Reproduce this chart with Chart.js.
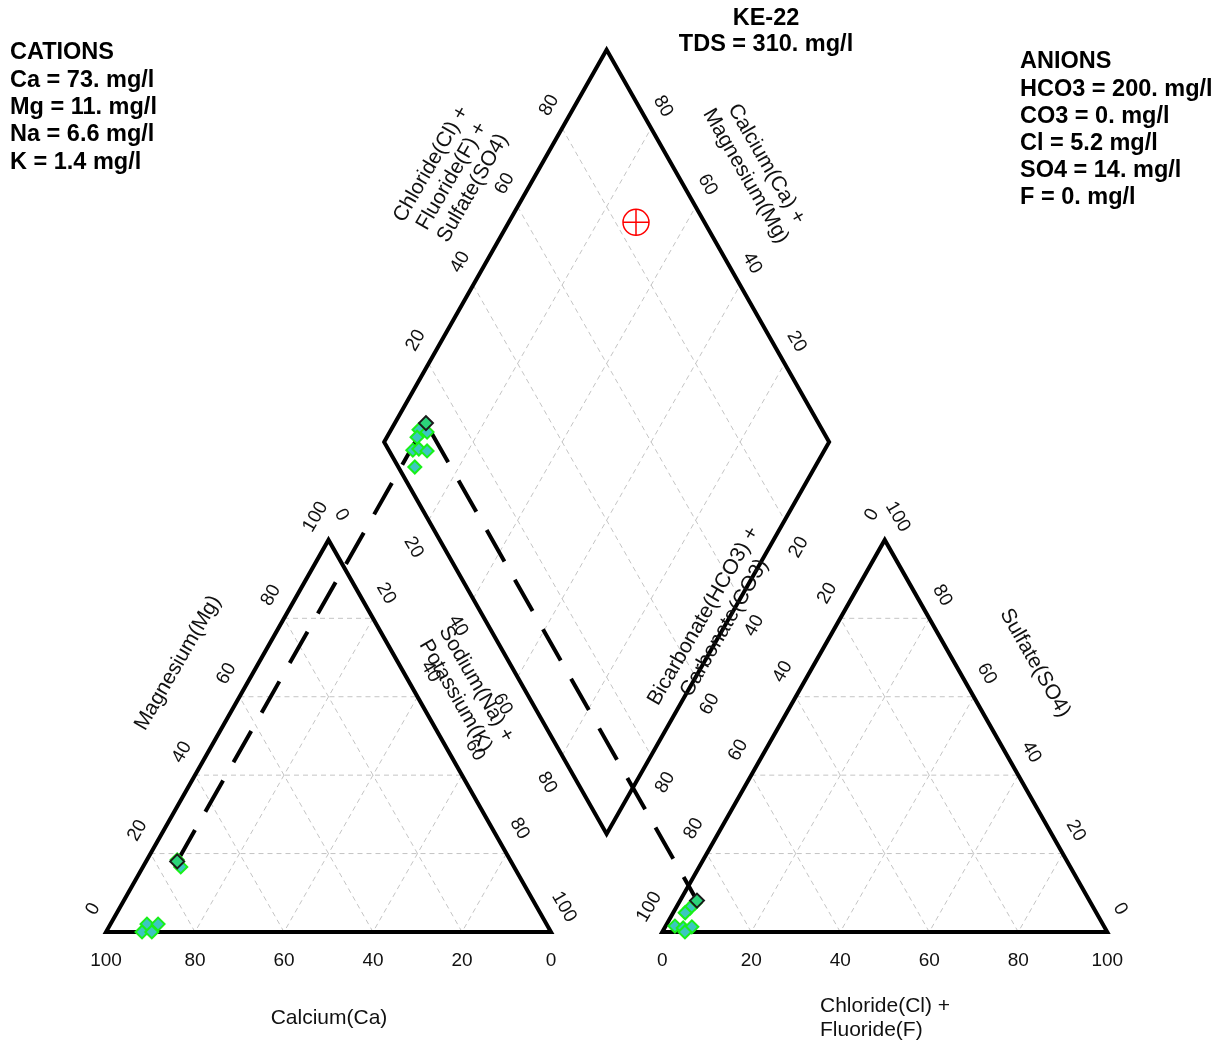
<!DOCTYPE html>
<html>
<head>
<meta charset="utf-8">
<script src="https://cdn.jsdelivr.net/npm/chart.js@4.4.0/dist/chart.umd.min.js"></script>
<style>
  html, body { margin: 0; padding: 0; background: #fff; }
  #wrap { width: 1225px; height: 1044px; position: relative; }
</style>
</head>
<body>
<div id="wrap"><canvas id="piper"></canvas></div>
<script>
// sample info shown in the corners
const sampleName = 'KE-22';
const tdsText = 'TDS = 310. mg/l';
const cationLines = ['CATIONS', 'Ca = 73. mg/l', 'Mg = 11. mg/l', 'Na = 6.6 mg/l', 'K = 1.4 mg/l'];
const anionLines = ['ANIONS', 'HCO3 = 200. mg/l', 'CO3 = 0. mg/l', 'Cl = 5.2 mg/l', 'SO4 = 14. mg/l', 'F = 0. mg/l'];

// % of meq. cations: [Ca, Mg], anions: [Cl, SO4]
const highlightCation = [75, 18];
const highlightAnion = [3.8, 8];

// other samples (green diamonds)
const otherCations = [[74.8, 18.4], [74.9, 16.6], [89.8, 2], [87.3, 2], [91.9, 0], [89.7, 0]];
const otherAnions = [[3.7, 7.4], [3.2, 6.1], [2.7, 4.9], [2.1, 1.5], [4.2, 1.0], [6.0, 1.3], [5.1, 0]];
// diamond: [Na+K, Cl+SO4]
const otherDiamond = [[6.3, 9.4], [8.4, 10.9], [6.8, 8.0], [7.5, 5.4], [8.7, 6.9], [10.8, 8.5], [10.1, 3.7]];
const redMarker = [28.6, 84.6];

const tickValues = [0, 20, 40, 60, 80, 100];
const innerTicks = [20, 40, 60, 80];

// ---- geometry (data units, triangle side = 100)
const H = Math.sqrt(3) / 2;
const LA = [0, 0], LB = [100, 0], LC = [50, 100 * H];          // Ca, Na+K, Mg corners
const RA = [125, 0], RB = [225, 0], RC = [175, 100 * H];       // HCO3, Cl, SO4 corners
const DL = [62.5, 125 * H], DT = [112.5, 225 * H], DR = [162.5, 125 * H], DB = [112.5, 25 * H];

const lerp = (a, b, f) => [a[0] + (b[0] - a[0]) * f, a[1] + (b[1] - a[1]) * f];
const pt = p => ({ x: p[0], y: p[1] });
const gap = { x: null, y: null };

function cationXY(c) {
  const mg = c[1], nak = 100 - c[0] - c[1];
  return [nak + mg / 2, mg * H];
}
function anionXY(a) {
  return [125 + a[0] + a[1] / 2, a[1] * H];
}
function diamondXY(nak, clso4) {
  return [(125 + clso4 + nak) / 2, H * (125 + clso4 - nak)];
}

// grid lines
const grid = [];
function triGrid(p0, p1, p2) {
  const v = [p0, p1, p2];
  for (let i = 0; i < 3; i++) {
    const a = v[i], b = v[(i + 1) % 3], c = v[(i + 2) % 3];
    innerTicks.forEach(k => {
      grid.push(pt(lerp(a, b, k / 100)), pt(lerp(a, c, k / 100)), gap);
    });
  }
}
triGrid(LA, LB, LC);
triGrid(RA, RB, RC);
innerTicks.forEach(k => {
  const f = k / 100;
  grid.push(pt(lerp(DL, DT, f)), pt(lerp(DB, DR, f)), gap);
  grid.push(pt(lerp(DL, DB, f)), pt(lerp(DT, DR, f)), gap);
});

const outline = [
  LA, LB, LC, LA, LB].map(pt).concat([gap],
  [RA, RB, RC, RA, RB].map(pt), [gap],
  [DL, DT, DR, DB, DL, DT].map(pt));

const hiCat = cationXY(highlightCation);
const hiAn = anionXY(highlightAnion);
const hiDia = diamondXY(100 - highlightCation[0] - highlightCation[1], highlightAnion[0] + highlightAnion[1]);

const otherPts = otherCations.map(cationXY)
  .concat(otherAnions.map(anionXY))
  .concat(otherDiamond.map(d => diamondXY(d[0], d[1])))
  .map(pt);

const redPt = diamondXY(redMarker[0], redMarker[1]);

// ---- tick label edges
const FONT = '"Liberation Sans", Arial, sans-serif';
const edges = [
  { a: LB, b: LA, vals: tickValues, off: [0, 29], rot: 0 },        // Ca
  { a: LA, b: LC, vals: tickValues, off: [-13, -23], rot: -60 },   // Mg
  { a: LC, b: LB, vals: tickValues, off: [13, -25], rot: 60 },     // Na+K
  { a: RA, b: RB, vals: tickValues, off: [0, 29], rot: 0 },        // Cl
  { a: RC, b: RA, vals: tickValues, off: [-13, -25], rot: -60 },   // HCO3
  { a: RB, b: RC, vals: tickValues, off: [13, -23], rot: 60 },     // SO4
  { a: DL, b: DT, vals: innerTicks, off: [-13, -23], rot: -60 },   // Cl+SO4
  { a: DR, b: DT, vals: innerTicks, off: [12, -22], rot: 60 },     // Ca+Mg
  { a: DL, b: DB, vals: innerTicks, off: [-15, 27], rot: 60 },     // Na+K
  { a: DR, b: DB, vals: innerTicks, off: [14, 27], rot: -60 }      // HCO3
];

const titles = [
  { lines: ['Calcium(Ca)'], x: 329, y: 1018, rot: 0 },
  { lines: ['Magnesium(Mg)'], x: 178, y: 663, rot: -60 },
  { lines: ['Sodium(Na) +', 'Potassium(K)'], x: 466, y: 690, rot: 60 },
  { lines: ['Bicarbonate(HCO3) +', 'Carbonate(CO3)'], x: 714, y: 622, rot: -60 },
  { lines: ['Sulfate(SO4)'], x: 1035, y: 663, rot: 60 },
  { lines: ['Chloride(Cl) +', 'Fluoride(F) +', 'Sulfate(SO4)'], x: 452, y: 176, rot: -60 },
  { lines: ['Calcium(Ca) +', 'Magnesium(Mg)'], x: 756, y: 170, rot: 60 }
];

function drawText(ctx, text, x, y, rot, align) {
  ctx.save();
  ctx.translate(x, y);
  ctx.rotate(rot * Math.PI / 180);
  ctx.textAlign = align || 'center';
  ctx.textBaseline = 'middle';
  ctx.fillText(text, 0, 0);
  ctx.restore();
}

const labelsPlugin = {
  id: 'piperLabels',
  afterDraw(chart) {
    const ctx = chart.ctx;
    const sx = chart.scales.x, sy = chart.scales.y;
    const toPx = p => [sx.getPixelForValue(p[0]), sy.getPixelForValue(p[1])];
    ctx.save();
    ctx.fillStyle = '#111';
    ctx.font = '19px ' + FONT;
    edges.forEach(e => {
      e.vals.forEach(k => {
        const p = toPx(lerp(e.a, e.b, k / 100));
        drawText(ctx, String(k), p[0] + e.off[0], p[1] + e.off[1], e.rot);
      });
    });
    ctx.font = '21px ' + FONT;
    titles.forEach(t => {
      ctx.save();
      ctx.translate(t.x, t.y);
      ctx.rotate(t.rot * Math.PI / 180);
      const lh = 24, n = t.lines.length;
      t.lines.forEach((s, i) => drawText(ctx, s, 0, (i - (n - 1) / 2) * lh, 0));
      ctx.restore();
    });
    drawText(ctx, 'Chloride(Cl) +', 820, 1006, 0, 'left');
    drawText(ctx, 'Fluoride(F)', 820, 1030, 0, 'left');

    ctx.fillStyle = '#000';
    ctx.font = 'bold 23.5px ' + FONT;
    cationLines.forEach((s, i) => drawText(ctx, s, 10, 53 + i * 27.3, 0, 'left'));
    anionLines.forEach((s, i) => drawText(ctx, s, 1020, 62 + i * 27.2, 0, 'left'));
    drawText(ctx, sampleName, 766, 19, 0, 'center');
    drawText(ctx, tdsText, 766, 45, 0, 'center');
    ctx.restore();
  }
};

new Chart(document.getElementById('piper'), {
  type: 'scatter',
  data: {
    datasets: [
      {
        data: [pt(hiCat), pt(hiAn), pt(hiDia)],
        pointStyle: 'rectRot', pointRadius: 7, borderWidth: 2,
        backgroundColor: '#2bd47a', borderColor: '#1a1a1a', order: 0
      },
      {
        data: otherPts,
        pointStyle: 'rectRot', pointRadius: 6.5, borderWidth: 2,
        backgroundColor: '#3cc6c0', borderColor: '#19f019', order: 1
      },
      {
        data: [pt(redPt)],
        pointStyle: 'circle', pointRadius: 13, borderWidth: 1.5,
        backgroundColor: 'transparent', borderColor: '#ff0000', order: 2
      },
      {
        data: [pt(redPt)],
        pointStyle: 'cross', pointRadius: 13, borderWidth: 1.5,
        borderColor: '#ff0000', order: 2
      },
      {
        data: [pt(hiCat), pt(hiDia), pt(hiAn)],
        showLine: true, pointRadius: 0, borderWidth: 4, borderColor: '#000',
        borderDash: [36, 21], order: 3
      },
      {
        data: outline,
        showLine: true, pointRadius: 0, borderWidth: 4, borderColor: '#000',
        borderJoinStyle: 'miter', order: 4
      },
      {
        data: grid,
        showLine: true, pointRadius: 0, borderWidth: 1, borderColor: '#c4c4c4',
        borderDash: [5, 4], order: 5
      }
    ]
  },
  options: {
    responsive: true,
    maintainAspectRatio: false,
    animation: false,
    events: [],
    layout: { padding: 0, autoPadding: false },
    plugins: { legend: { display: false }, tooltip: { enabled: false } },
    scales: {
      x: { type: 'linear', min: -23.82, max: 251.46, display: false },
      y: { type: 'linear', min: -24.75, max: 205.87, display: false }
    }
  },
  plugins: [labelsPlugin]
});
</script>
</body>
</html>
